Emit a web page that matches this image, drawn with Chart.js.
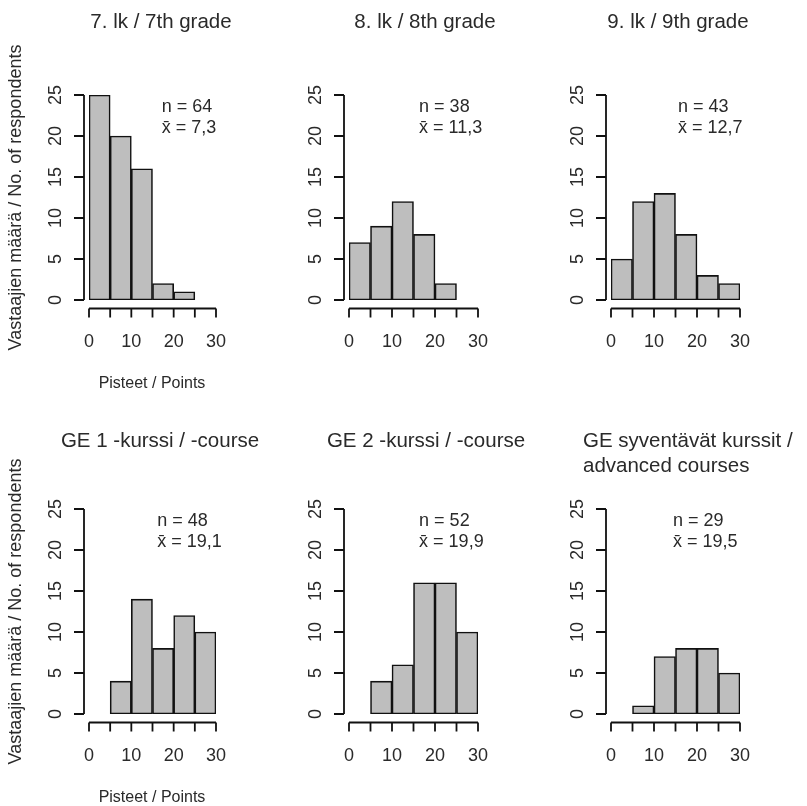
<!DOCTYPE html>
<html>
<head>
<meta charset="utf-8">
<script src="https://cdn.jsdelivr.net/npm/chart.js@4.4.1/dist/chart.umd.min.js"></script>
<style>
  body { margin: 0; background: #fff; }
  #wrap { position: relative; width: 807px; height: 806px; background: #fff; overflow: hidden; }
  #wrap canvas { position: absolute; }
</style>
</head>
<body>
<div id="wrap"></div>
<script>
// bins (points) and counts per group
const binEdges = [0, 5, 10, 15, 20, 25, 30];
const grade7 = [25, 20, 16, 2, 1, 0];
const grade8 = [7, 9, 12, 8, 2, 0];
const grade9 = [5, 12, 13, 8, 3, 2];
const ge1 = [0, 4, 14, 8, 12, 10];
const ge2 = [0, 4, 6, 16, 16, 10];
const geAdv = [0, 1, 7, 8, 8, 5];

const titles = [
  ["7. lk / 7th grade"],
  ["8. lk / 8th grade"],
  ["9. lk / 9th grade"],
  ["GE 1 -kurssi / -course"],
  ["GE 2 -kurssi / -course"],
  ["GE syventävät kurssit /", "advanced courses"]
];
const nValues = [64, 38, 43, 48, 52, 29];
const means = ["7,3", "11,3", "12,7", "19,1", "19,9", "19,5"];

const yTicks = [0, 5, 10, 15, 20, 25];
const xTicks = [0, 5, 10, 15, 20, 25, 30];
const xTickLabels = [0, 10, 20, 30];
const yTitle = "Vastaajien määrä / No. of respondents";
const xTitle = "Pisteet / Points";

const series = [grade7, grade8, grade9, ge1, ge2, geAdv];

// layout of the 6 panels (pixels)
const panels = [
  { x: 0,   y: 0,   w: 270, h: 400, pad: { left: 89, right: 54, top: 95,  bottom: 100 }, tx: 161, ty: 28, align: "center", nx: 17.2, axisTitles: true },
  { x: 270, y: 0,   w: 270, h: 400, pad: { left: 79, right: 62, top: 95,  bottom: 100 }, tx: 155, ty: 28, align: "center", nx: 16.3 },
  { x: 540, y: 0,   w: 267, h: 400, pad: { left: 71, right: 67, top: 95,  bottom: 100 }, tx: 138, ty: 28, align: "center", nx: 15.6 },
  { x: 0,   y: 400, w: 270, h: 406, pad: { left: 89, right: 54, top: 109, bottom: 92 },  tx: 160, ty: 47, align: "center", nx: 16.1, axisTitles: true },
  { x: 270, y: 400, w: 270, h: 406, pad: { left: 79, right: 62, top: 109, bottom: 92 },  tx: 156, ty: 47, align: "center", nx: 16.3 },
  { x: 540, y: 400, w: 267, h: 406, pad: { left: 71, right: 67, top: 109, bottom: 92 },  tx: 43,  ty: 47, align: "left",   nx: 14.4 }
];

const FONT = '"Liberation Sans", Arial, sans-serif';
const INK = "#2a2a2a";

const rAxes = {
  id: "rAxes",
  afterDraw(chart, args, opts) {
    const c = chart.ctx;
    const xs = chart.scales.x, ys = chart.scales.y;
    const p = opts.panel;
    const x0 = xs.getPixelForValue(0), x30 = xs.getPixelForValue(30);
    const y0 = ys.getPixelForValue(0), y25 = ys.getPixelForValue(25);
    const axX = x0 - 5;       // y axis sits left of the bars
    const axY = y0 + 8.5;     // x axis sits below the bars
    c.save();
    c.strokeStyle = "#111";
    c.lineWidth = 1.8;
    c.fillStyle = INK;

    // y axis
    c.beginPath();
    c.moveTo(axX, y0); c.lineTo(axX, y25);
    yTicks.forEach(v => {
      const py = ys.getPixelForValue(v);
      c.moveTo(axX, py); c.lineTo(axX - 10, py);
    });
    c.stroke();
    c.font = "18px " + FONT;
    c.textAlign = "center";
    c.textBaseline = "middle";
    yTicks.forEach(v => {
      const py = ys.getPixelForValue(v);
      c.save();
      c.translate(axX - 28, py);
      c.rotate(-Math.PI / 2);
      c.fillText(String(v), 0, 0);
      c.restore();
    });

    // x axis
    c.beginPath();
    c.moveTo(x0, axY); c.lineTo(x30, axY);
    xTicks.forEach(v => {
      const px = xs.getPixelForValue(v);
      c.moveTo(px, axY); c.lineTo(px, axY + 9);
    });
    c.stroke();
    c.textBaseline = "middle";
    xTickLabels.forEach(v => {
      c.fillText(String(v), xs.getPixelForValue(v), axY + 34);
    });

    // title
    c.font = "20.5px " + FONT;
    c.textAlign = p.align;
    c.textBaseline = "alphabetic";
    p.title.forEach((line, i) => c.fillText(line, p.tx, p.ty + i * 25));

    // n and mean
    c.font = "18px " + FONT;
    c.textAlign = "left";
    const nx = xs.getPixelForValue(p.nx);
    c.fillText("n = " + p.n, nx, y25 + 17);
    c.fillText("x\u0304 = " + p.mean, nx, y25 + 38);

    // axis titles on the left column
    if (p.axisTitles) {
      c.textAlign = "center";
      c.font = "18px " + FONT;
      c.save();
      c.translate(21, (y0 + y25) / 2);
      c.rotate(-Math.PI / 2);
      c.fillText(yTitle, 0, 0);
      c.restore();
      c.font = "16px " + FONT;
      c.fillText(xTitle, 152, axY + 79);
    }
    c.restore();
  }
};

const wrap = document.getElementById("wrap");
panels.forEach((p, i) => {
  const cv = document.createElement("canvas");
  cv.width = p.w; cv.height = p.h;
  cv.style.left = p.x + "px"; cv.style.top = p.y + "px";
  cv.style.width = p.w + "px"; cv.style.height = p.h + "px";
  wrap.appendChild(cv);

  const counts = series[i];
  const points = counts.map((v, k) => ({ x: (binEdges[k] + binEdges[k + 1]) / 2, y: v === 0 ? null : v }));

  new Chart(cv.getContext("2d"), {
    type: "bar",
    data: {
      datasets: [{
        data: points,
        backgroundColor: "#bebebe",
        borderColor: "#111",
        borderWidth: 1.6,
        borderSkipped: false,
        barPercentage: 1,
        categoryPercentage: 1
      }]
    },
    options: {
      responsive: false,
      animation: false,
      devicePixelRatio: 1,
      layout: { padding: p.pad },
      scales: {
        x: { type: "linear", min: 0, max: 30, offset: false, display: false, ticks: { stepSize: 5 } },
        y: { min: 0, max: 25, display: false, ticks: { stepSize: 5 } }
      },
      plugins: {
        legend: { display: false },
        tooltip: { enabled: false },
        rAxes: { panel: Object.assign({}, p, { title: titles[i], n: nValues[i], mean: means[i] }) }
      }
    },
    plugins: [rAxes]
  });
});
</script>
</body>
</html>
